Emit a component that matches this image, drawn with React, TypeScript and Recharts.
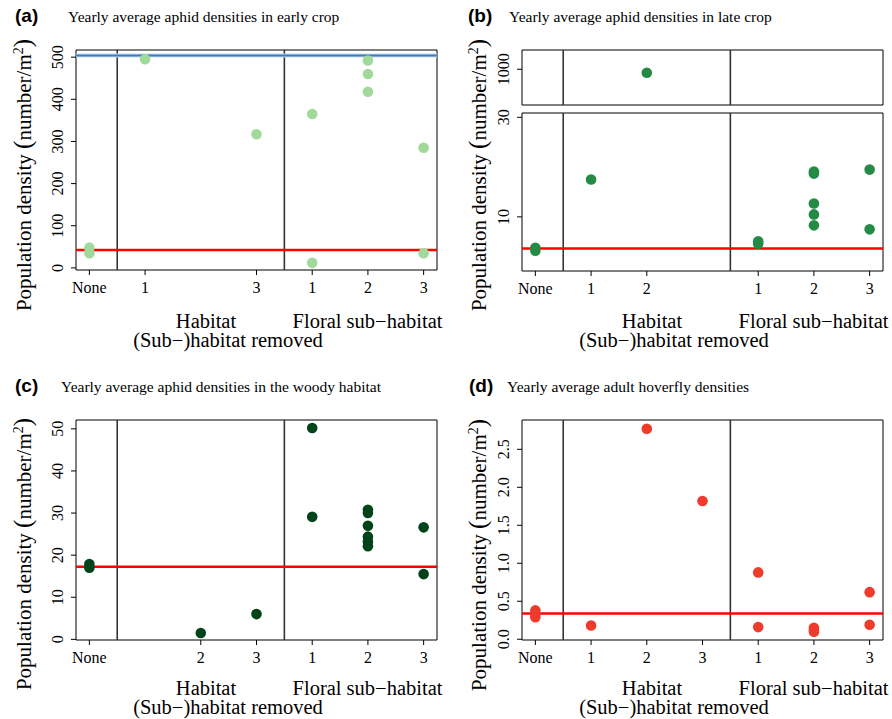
import React from "react";
import { ScatterChart, Scatter, XAxis, YAxis, ReferenceLine, ReferenceArea } from "recharts";

// ---------- data ----------
const categories = ["None", "Habitat 1", "Habitat 2", "Habitat 3", "Floral 1", "Floral 2", "Floral 3"];
const tickLabels = ["None", "1", "2", "3", "1", "2", "3"];

// (a) early crop
const earlyCropGroup = ["None", "None", "Habitat 1", "Habitat 3", "Floral 1", "Floral 1", "Floral 2", "Floral 2", "Floral 2", "Floral 3", "Floral 3"];
const earlyCropDensity = [48, 35, 495, 317, 365, 12, 492, 460, 418, 285, 35];
const earlyCropXTicks = ["None", "Habitat 1", "Habitat 3", "Floral 1", "Floral 2", "Floral 3"];
const earlyCropYTicks = [0, 100, 200, 300, 400, 500];
const earlyCropControl = 42.6;
const earlyCropThreshold = 504;

// (b) late crop (broken axis)
const lateCropGroup = ["None", "None", "Habitat 1", "Floral 1", "Floral 1", "Floral 2", "Floral 2", "Floral 2", "Floral 2", "Floral 2", "Floral 3", "Floral 3"];
const lateCropDensity = [3.8, 3.2, 17.5, 5.1, 4.6, 19.1, 18.7, 12.7, 10.5, 8.3, 19.5, 7.5];
const lateCropHighGroup = ["Habitat 2"];
const lateCropHighDensity = [987];
const lateCropXTicks = ["None", "Habitat 1", "Habitat 2", "Floral 1", "Floral 2", "Floral 3"];
const lateCropYTicks = [10, 30];
const lateCropHighYTicks = [1000];
const lateCropControl = 3.64;

// (c) woody habitat
const woodyGroup = ["None", "None", "Habitat 2", "Habitat 3", "Floral 1", "Floral 1", "Floral 2", "Floral 2", "Floral 2", "Floral 2", "Floral 2", "Floral 2", "Floral 3", "Floral 3"];
const woodyDensity = [17.9, 17.0, 1.5, 6.0, 50.2, 29.1, 30.8, 30.0, 27.0, 24.4, 23.2, 22.1, 26.6, 15.5];
const woodyXTicks = ["None", "Habitat 2", "Habitat 3", "Floral 1", "Floral 2", "Floral 3"];
const woodyYTicks = [0, 10, 20, 30, 40, 50];
const woodyControl = 17.26;

// (d) hoverflies
const hoverGroup = ["None", "None", "None", "Habitat 1", "Habitat 2", "Habitat 3", "Floral 1", "Floral 1", "Floral 2", "Floral 2", "Floral 2", "Floral 3", "Floral 3"];
const hoverDensity = [0.38, 0.33, 0.29, 0.18, 2.77, 1.82, 0.88, 0.16, 0.15, 0.12, 0.1, 0.62, 0.19];
const hoverXTicks = ["None", "Habitat 1", "Habitat 2", "Habitat 3", "Floral 1", "Floral 2", "Floral 3"];
const hoverYTicks = [0, 0.5, 1, 1.5, 2, 2.5];
const hoverControl = 0.34;

// ---------- helpers ----------
const SERIF = "'Liberation Serif', 'Times New Roman', serif";
const SANS = "'Liberation Sans', Arial, sans-serif";
const X_DOMAIN: [number, number] = [-0.24, 6.24];
const dividers = [
  (categories.indexOf("None") + categories.indexOf("Habitat 1")) / 2,
  (categories.indexOf("Habitat 3") + categories.indexOf("Floral 1")) / 2,
];

const toPoints = (groups: string[], values: number[]) =>
  groups.map((g, i) => ({ x: categories.indexOf(g), y: values[i] }));

const XTick = (props: any) => {
  const { x, y, payload } = props;
  return (
    <text x={x} y={y + 18} textAnchor="middle" fontFamily={SERIF} fontSize={16} fill="#000">
      {tickLabels[payload.value]}
    </text>
  );
};

const makeYTick = (fmt: (v: number) => string) => (props: any) => {
  const { x, y, payload } = props;
  return (
    <text transform={`translate(${x - 8},${y}) rotate(-90)`} textAnchor="middle" fontFamily={SERIF} fontSize={16} fill="#000">
      {fmt(payload.value)}
    </text>
  );
};

const intFmt = (v: number) => String(v);
const oneDec = (v: number) => v.toFixed(1);

type ChartProps = {
  height: number;
  top: number;
  bottom: number;
  data: { x: number; y: number }[];
  color: string;
  yDomain: [number, number];
  yTicks: number[];
  yFmt: (v: number) => string;
  xTicks?: string[];
  control?: number;
  threshold?: number;
};

function PanelChart({ height, top, bottom, data, color, yDomain, yTicks, yFmt, xTicks, control, threshold }: ChartProps) {
  const dot = (p: any) => <circle cx={p.cx} cy={p.cy} r={5.3} fill={color} />;
  return (
    <ScatterChart width={446} height={height} margin={{ top, right: 9, bottom, left: 0 }}>
      <XAxis
        type="number"
        dataKey="x"
        domain={X_DOMAIN}
        ticks={xTicks ? xTicks.map((c) => categories.indexOf(c)) : []}
        interval={0}
        tickSize={5}
        tickMargin={0}
        axisLine={false}
        tickLine={{ stroke: "#000" }}
        tick={XTick}
        height={30}
        hide={!xTicks}
        allowDataOverflow
      />
      <YAxis
        type="number"
        dataKey="y"
        domain={yDomain}
        ticks={yTicks}
        interval={0}
        tickSize={5}
        tickMargin={0}
        axisLine={false}
        tickLine={{ stroke: "#000" }}
        tick={makeYTick(yFmt)}
        width={76}
        allowDataOverflow
      />
      <ReferenceArea x1={X_DOMAIN[0]} x2={X_DOMAIN[1]} y1={yDomain[0]} y2={yDomain[1]} fill="none" stroke="#000" strokeWidth={1} ifOverflow="visible" />
      {dividers.map((d) => (
        <ReferenceLine key={d} x={d} stroke="#333" strokeWidth={1.6} />
      ))}
      <Scatter data={data} shape={dot} isAnimationActive={false} />
      {threshold !== undefined && <ReferenceLine y={threshold} stroke="#c3dbf0" strokeWidth={4} />}
      {threshold !== undefined && <ReferenceLine y={threshold} stroke="#3b7dc0" strokeWidth={2} />}
      {control !== undefined && <ReferenceLine y={control} stroke="#ff0000" strokeWidth={2.5} />}
    </ScatterChart>
  );
}

type TextProps = {
  letter: string;
  letterX: number;
  title: string;
  titleX: number;
  yTitleX: number;
  yTitleY: number;
  bottomShift: number;
};

function PanelText({ letter, letterX, title, titleX, yTitleX, yTitleY, bottomShift }: TextProps) {
  return (
    <svg width={446} height={360} style={{ position: "absolute", left: 0, top: 0, pointerEvents: "none" }}>
      <text x={letterX} y={22} fontFamily={SANS} fontWeight="bold" fontSize={19} fill="#000">{letter}</text>
      <text x={titleX} y={22} fontFamily={SERIF} fontSize={15.5} fill="#000">{title}</text>
      <text transform={`translate(${yTitleX},${yTitleY}) rotate(-90)`} textAnchor="middle" fontFamily={SERIF} fontSize={21} fill="#000">
        Population density <tspan fontSize={25}>(</tspan>number/m<tspan dy={-8} fontSize={14}>2</tspan><tspan dy={8} fontSize={25}>)</tspan>
      </text>
      <text x={206} y={328 - bottomShift} textAnchor="middle" fontFamily={SERIF} fontSize={20.5} fill="#000">Habitat</text>
      <text x={367.5} y={328 - bottomShift} textAnchor="middle" fontFamily={SERIF} fontSize={20.5} fill="#000">Floral sub−habitat</text>
      <text x={228} y={347 - bottomShift} textAnchor="middle" fontFamily={SERIF} fontSize={20.5} fill="#000">(Sub−)habitat removed</text>
    </svg>
  );
}

export default function App() {
  return (
    <div style={{ position: "absolute", left: 0, top: 0, width: 892, height: 719, overflow: "hidden", background: "#fff" }}>
      {/* (a) */}
      <div style={{ position: "absolute", left: 0, top: 0, width: 446, height: 360 }}>
        <PanelChart
          height={360} top={50} bottom={60}
          data={toPoints(earlyCropGroup, earlyCropDensity)}
          color="#a1d99b"
          yDomain={[-5, 517]} yTicks={earlyCropYTicks} yFmt={intFmt}
          xTicks={earlyCropXTicks}
          control={earlyCropControl} threshold={earlyCropThreshold}
        />
        <PanelText letter="(a)" letterX={15} title="Yearly average aphid densities in early crop" titleX={68} yTitleX={31} yTitleY={175} bottomShift={0} />
      </div>
      {/* (b) */}
      <div style={{ position: "absolute", left: 446, top: 0, width: 446, height: 360 }}>
        <div style={{ position: "absolute", left: 0, top: 0 }}>
          <PanelChart
            height={110} top={50} bottom={5}
            data={toPoints(lateCropHighGroup, lateCropHighDensity)}
            color="#238b45"
            yDomain={[870, 1070]} yTicks={lateCropHighYTicks} yFmt={intFmt}
          />
        </div>
        <div style={{ position: "absolute", left: 0, top: 0 }}>
          <PanelChart
            height={360} top={113} bottom={59}
            data={toPoints(lateCropGroup, lateCropDensity)}
            color="#238b45"
            yDomain={[-0.87, 30.87]} yTicks={lateCropYTicks} yFmt={intFmt}
            xTicks={lateCropXTicks}
            control={lateCropControl}
          />
        </div>
        <PanelText letter="(b)" letterX={22} title="Yearly average aphid densities in late crop" titleX={63} yTitleX={40} yTitleY={175} bottomShift={0} />
      </div>
      {/* (c) */}
      <div style={{ position: "absolute", left: 0, top: 370, width: 446, height: 360 }}>
        <PanelChart
          height={360} top={50} bottom={60}
          data={toPoints(woodyGroup, woodyDensity)}
          color="#00441b"
          yDomain={[-0.15, 52.1]} yTicks={woodyYTicks} yFmt={intFmt}
          xTicks={woodyXTicks}
          control={woodyControl}
        />
        <PanelText letter="(c)" letterX={15} title="Yearly average aphid densities in the woody habitat" titleX={61} yTitleX={31} yTitleY={184} bottomShift={3} />
      </div>
      {/* (d) */}
      <div style={{ position: "absolute", left: 446, top: 370, width: 446, height: 360 }}>
        <PanelChart
          height={360} top={50} bottom={60}
          data={toPoints(hoverGroup, hoverDensity)}
          color="#ef3b2c"
          yDomain={[-0.01, 2.886]} yTicks={hoverYTicks} yFmt={oneDec}
          xTicks={hoverXTicks}
          control={hoverControl}
        />
        <PanelText letter="(d)" letterX={23} title="Yearly average adult hoverfly densities" titleX={61} yTitleX={40} yTitleY={185} bottomShift={3} />
      </div>
    </div>
  );
}
